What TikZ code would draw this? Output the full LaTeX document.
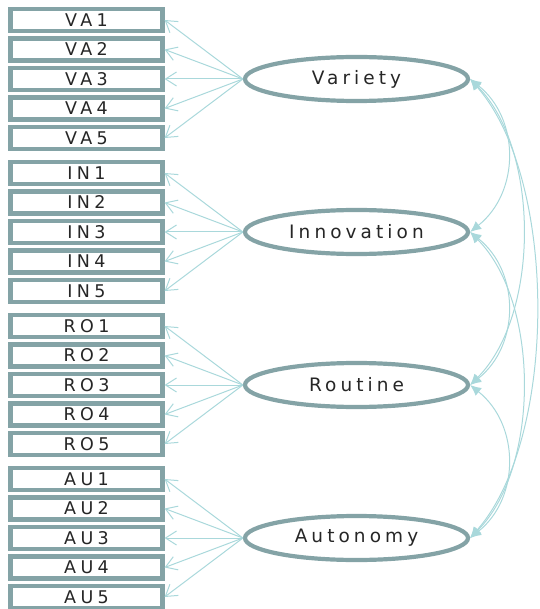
\documentclass[tikz,border=0pt]{standalone}
\usepackage{fontspec}
\setmainfont{DejaVu Sans}
\newfontfamily\boxfont{DejaVu Sans}[LetterSpace=25]
\newfontfamily\latfont{DejaVu Sans}[LetterSpace=22]
\usetikzlibrary{arrows.meta,shapes.geometric}
\definecolor{bord}{HTML}{84A3A6}
\definecolor{arr}{HTML}{A9D8DB}
\begin{document}
\begin{tikzpicture}[x=1pt,y=1pt,
 ind/.style={draw=bord,line width=4.2pt,fill=white,minimum width=152pt,minimum height=22pt,inner sep=0pt,font=\fontsize{17.5}{17.5}\boxfont,text=black!85},
 lat/.style={ellipse,draw=bord,line width=4.2pt,fill=white,minimum width=223pt,minimum height=44pt,inner sep=0pt,font=\fontsize{18.5}{18.5}\latfont,text=black!85},
 load/.style={draw=arr,line width=1pt,-{Straight Barb[length=11pt,width=14pt]}},
 cov/.style={draw=arr,line width=1pt,{Latex[length=11pt,width=10pt]}-{Latex[length=11pt,width=10pt]}}]
\useasboundingbox (0,0) rectangle (539,-609);
\foreach \p/\n/\lab/\ys in {VA/V/Variety/20, IN/I/Innovation/173, RO/R/Routine/326, AU/A/Autonomy/479}{
  \node[lat] (\n) at (356.5,{-(\ys+59)}) {\lab};
  \foreach \i in {1,...,5}{
    \node[ind] (\p\i) at (86.5,{-(\ys+(\i-1)*29.5)}) {\p\i};
    \draw[load] (\n.west) -- (\p\i.east);
  }
}
\draw[cov] (V.east) .. controls +(50,-40) and +(50,40) .. (I.east);
\draw[cov] (I.east) .. controls +(50,-40) and +(50,40) .. (R.east);
\draw[cov] (R.east) .. controls +(50,-40) and +(50,40) .. (A.east);
\draw[cov] (V.east) .. controls +(70,-70) and +(70,70) .. (R.east);
\draw[cov] (I.east) .. controls +(70,-70) and +(70,70) .. (A.east);
\draw[cov] (V.east) .. controls +(88,-100) and +(88,100) .. (A.east);
\end{tikzpicture}
\end{document}
